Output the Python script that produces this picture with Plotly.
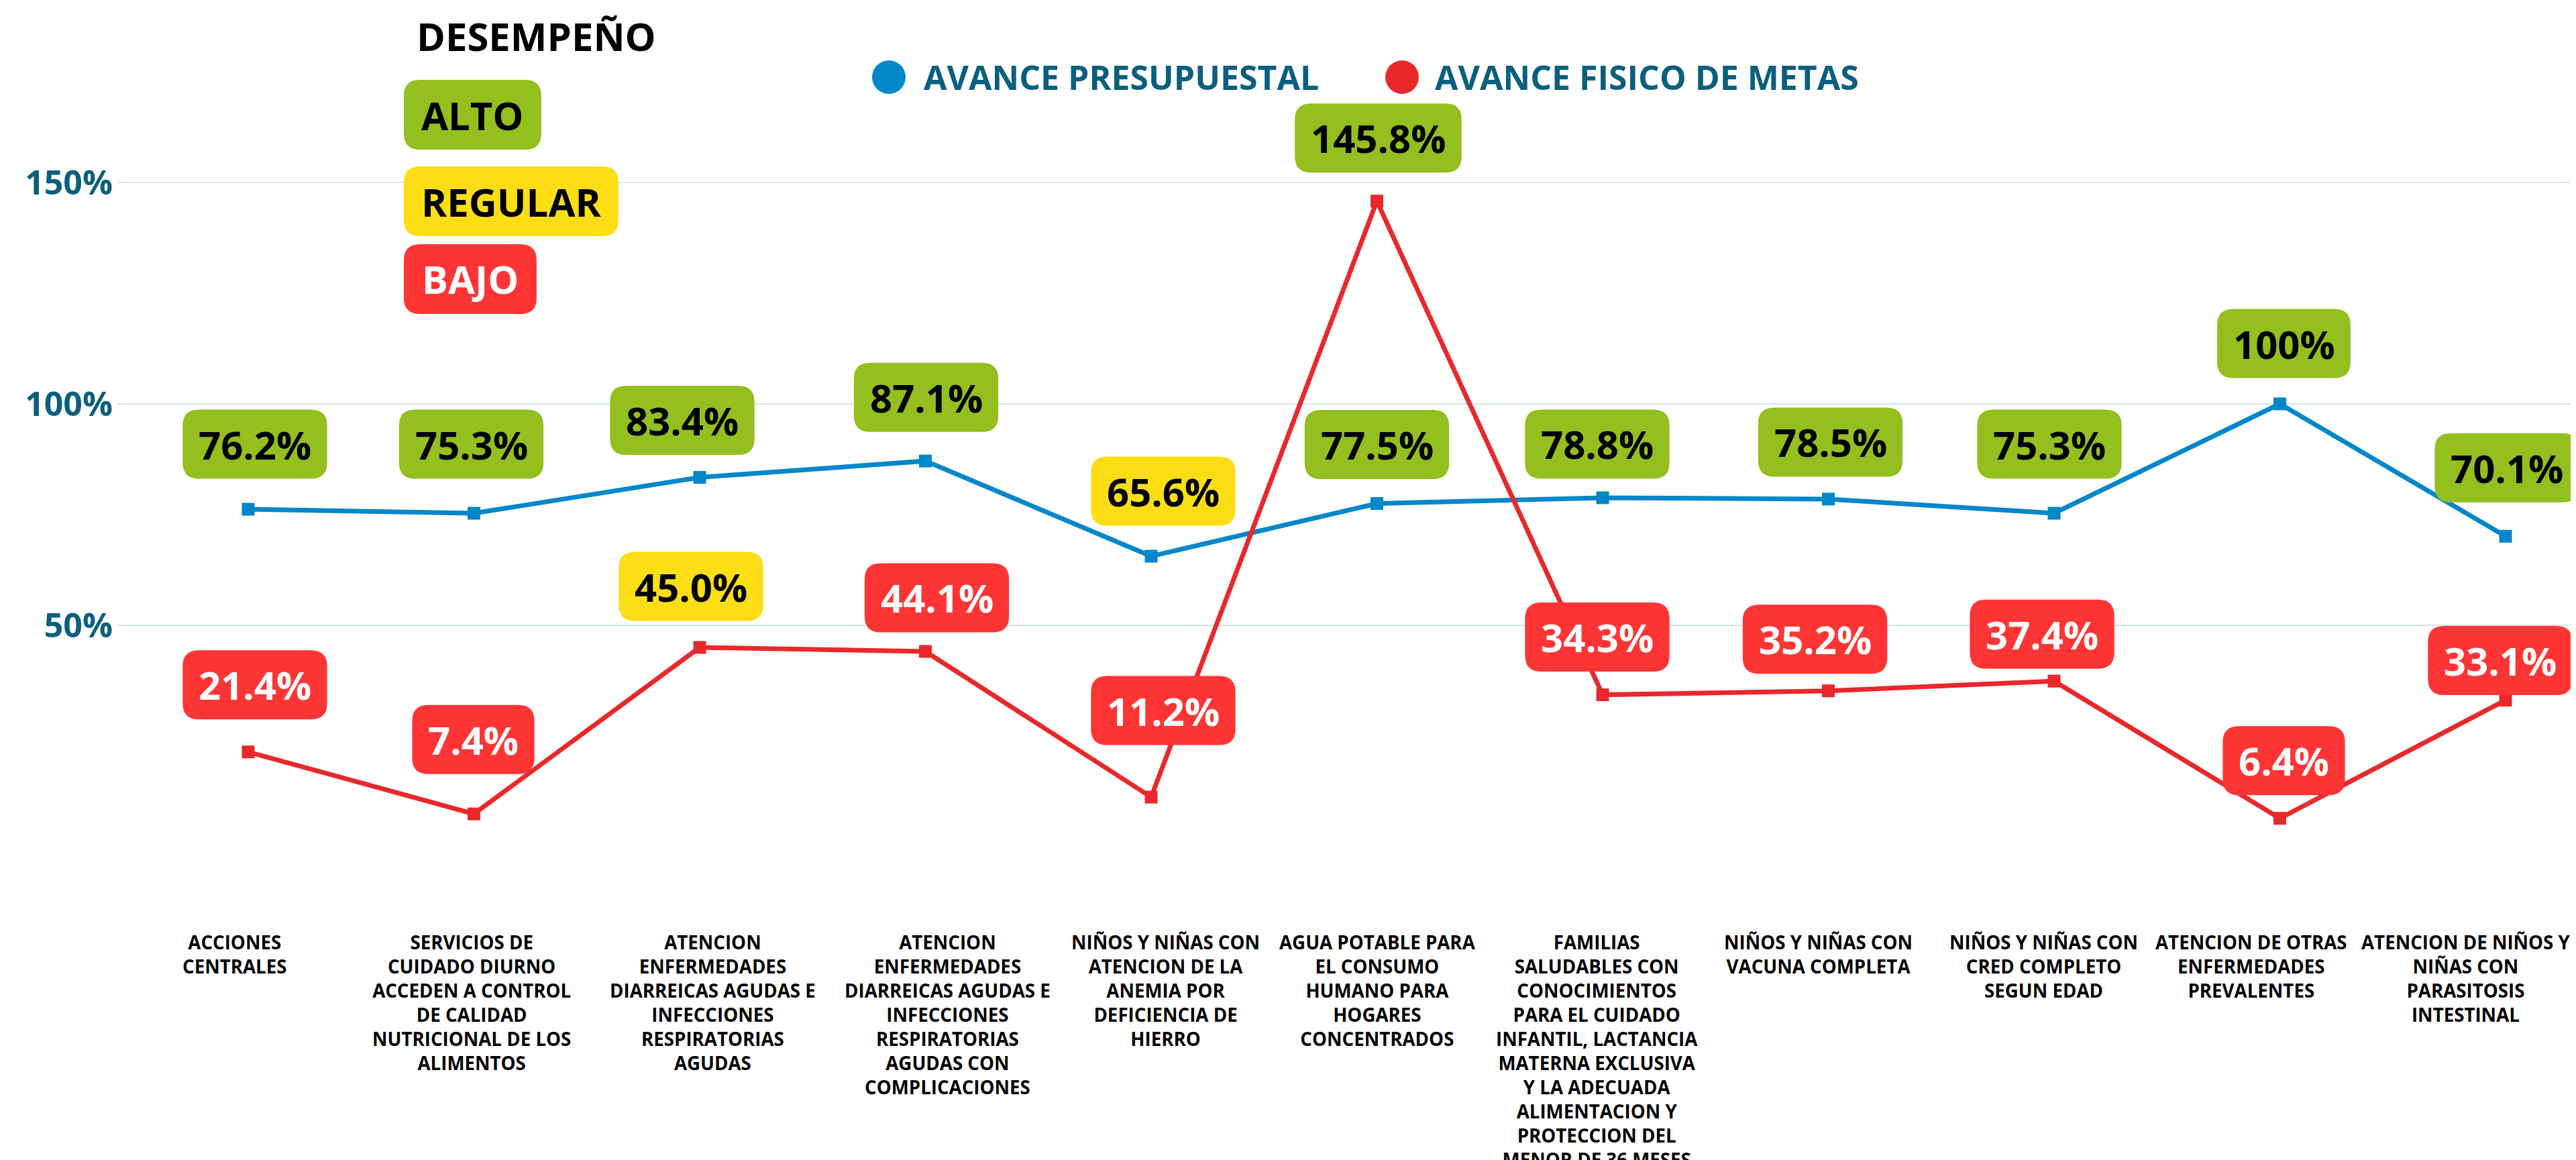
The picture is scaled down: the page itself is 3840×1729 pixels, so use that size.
import plotly.graph_objects as go

# ---------------- data ----------------
category_lines = [
    ["ACCIONES", "CENTRALES"],
    ["SERVICIOS DE", "CUIDADO DIURNO", "ACCEDEN A CONTROL", "DE CALIDAD", "NUTRICIONAL DE LOS", "ALIMENTOS"],
    ["ATENCION", "ENFERMEDADES", "DIARREICAS AGUDAS E", "INFECCIONES", "RESPIRATORIAS", "AGUDAS"],
    ["ATENCION", "ENFERMEDADES", "DIARREICAS AGUDAS E", "INFECCIONES", "RESPIRATORIAS", "AGUDAS CON", "COMPLICACIONES"],
    ["NIÑOS Y NIÑAS CON", "ATENCION DE LA", "ANEMIA POR", "DEFICIENCIA DE", "HIERRO"],
    ["AGUA POTABLE PARA", "EL CONSUMO", "HUMANO PARA", "HOGARES", "CONCENTRADOS"],
    ["FAMILIAS", "SALUDABLES CON", "CONOCIMIENTOS", "PARA EL CUIDADO", "INFANTIL, LACTANCIA",
     "MATERNA EXCLUSIVA", "Y LA ADECUADA", "ALIMENTACION Y", "PROTECCION DEL", "MENOR DE 36 MESES"],
    ["NIÑOS Y NIÑAS CON", "VACUNA COMPLETA"],
    ["NIÑOS Y NIÑAS CON", "CRED COMPLETO", "SEGUN EDAD"],
    ["ATENCION DE OTRAS", "ENFERMEDADES", "PREVALENTES"],
    ["ATENCION DE NIÑOS Y", "NIÑAS CON", "PARASITOSIS", "INTESTINAL"],
]
avance_presupuestal = [76.2, 75.3, 83.4, 87.1, 65.6, 77.5, 78.8, 78.5, 75.3, 100.0, 70.1]
avance_fisico = [21.4, 7.4, 45.0, 44.1, 11.2, 145.8, 34.3, 35.2, 37.4, 6.4, 33.1]
y_tick_values = [50, 100, 150]
y_tick_labels = ["50%", "100%", "150%"]
series_names = ["AVANCE PRESUPUESTAL", "AVANCE FISICO DE METAS"]
desempeno_levels = ["ALTO", "REGULAR", "BAJO"]

# ---------------- styles / layout ----------------
OFF = 8  # default page margin of the html body
W, H = 3840 - OFF, 1729 - OFF
# plot area in screen pixels
S_PL, S_PR, S_PT, S_PB = 175, 3840, 100, 1262
PL, PR, PT, PB = S_PL - OFF, S_PR - OFF, S_PT - OFF, S_PB - OFF
FONT = "Open Sans"
BLUE = "#0087C9"
RED_LINE = "#E9282C"
GREEN = "#93BF1F"
YELLOW = "#FDDE15"
RED = "#FF3535"
AXIS_TXT = "#0A5F7F"

# pixel offsets (x right, y up) of the value labels from their points
blue_dx = [10, -4, -26, 1, 18, 0, -8, 3, -7, 6, 2]
blue_dy = [97, 103, 85, 95, 97, 88, 80, 85, 103, 90, 102]
red_dx = [10, -1, -13, 17, 18, 2, -8, -20, -18, 6, -8]
red_dy = [100, 111, 91, 80, 129, 94, 86, 77, 70, 86, 59]
# horizontal pixel offsets of the category labels from their ticks
cat_dx = [-21, -4, 19, 33, 21, 1, -9, -15, -16, -43, -59]
CAT_FS = 27.7
CAT_DROP = 122  # pixels below the 0% level to the top of the category labels

LABEL_FS = 58
BOX_H = 103
BOX_R = 24
CHAR_W = {d: 0.572 for d in "0123456789"}
CHAR_W.update({".": 0.285, "%": 0.85})
CAP_W = {"A": .75, "L": .53, "T": .59, "O": .80, "R": .66, "E": .56, "G": .73, "U": .76,
         "B": .68, "J": .32}


def text_w(s, fs):
    return sum(CHAR_W.get(c, CAP_W.get(c, 0.6)) for c in s) * fs


def perf_color(v):
    if v >= 70:
        return GREEN
    if v >= 45:
        return YELLOW
    return RED


def fmt(v):
    return f"{v:.0f}%" if v >= 100 and v == round(v) else f"{v:.1f}%"


def rrect(cx, cy, w, h, r):
    x0, x1 = cx - w / 2, cx + w / 2
    y0, y1 = cy - h / 2, cy + h / 2
    return (f"M{x0 + r},{y0} L{x1 - r},{y0} Q{x1},{y0} {x1},{y0 + r} "
            f"L{x1},{y1 - r} Q{x1},{y1} {x1 - r},{y1} L{x0 + r},{y1} "
            f"Q{x0},{y1} {x0},{y1 - r} L{x0},{y0 + r} Q{x0},{y0} {x0 + r},{y0} Z")


def px(xs):
    """screen x pixel -> paper coordinate"""
    return (xs - S_PL) / (S_PR - S_PL)


def py(ys):
    """screen y pixel -> paper coordinate"""
    return (S_PB - ys) / (S_PB - S_PT)


x_idx = list(range(len(category_lines)))
tick_text = ["<br>".join(lines) for lines in category_lines]

fig = go.Figure()
fig.add_trace(go.Scatter(x=x_idx, y=avance_presupuestal, mode="lines+markers",
                         name=series_names[0], line=dict(color=BLUE, width=7),
                         marker=dict(symbol="square", size=19, color=BLUE)))
fig.add_trace(go.Scatter(x=x_idx, y=avance_fisico, mode="lines+markers",
                         name=series_names[1], line=dict(color=RED_LINE, width=7),
                         marker=dict(symbol="square", size=19, color=RED_LINE)))

shapes = []
annotations = []

# category labels (under the axis)
for i, txt in enumerate(tick_text):
    annotations.append(dict(x=i, y=0, xref="x", yref="y", text=txt, showarrow=False,
                            xshift=cat_dx[i], yshift=-CAT_DROP, xanchor="center", yanchor="top",
                            align="center", valign="top", borderpad=0,
                            font=dict(family=FONT, size=CAT_FS, weight="bold", color="black")))

for vals, dxs, dys in [(avance_presupuestal, blue_dx, blue_dy), (avance_fisico, red_dx, red_dy)]:
    for i, v in enumerate(vals):
        txt = fmt(v)
        c = perf_color(v)
        w = text_w(txt, LABEL_FS) + 50
        shapes.append(dict(type="path", xref="x", yref="y", xsizemode="pixel", ysizemode="pixel",
                           xanchor=i, yanchor=v, path=rrect(dxs[i], dys[i], w, BOX_H, BOX_R),
                           fillcolor=c, line=dict(width=0), layer="above"))
        annotations.append(dict(x=i, y=v, xref="x", yref="y", text=txt, showarrow=False,
                                xshift=dxs[i], yshift=dys[i], xanchor="center", yanchor="middle",
                                font=dict(family=FONT, size=LABEL_FS, weight="bold",
                                          color="white" if c == RED else "black")))

# Desempeño key
annotations.append(dict(x=px(619), y=py(53), xref="paper", yref="paper", text="DESEMPEÑO",
                        showarrow=False, xanchor="left", yanchor="middle",
                        font=dict(family=FONT, size=58, weight="bold", color="black")))
key_colors = [GREEN, YELLOW, RED]
key_cy = [171, 300, 416]
for lvl, c, cy in zip(desempeno_levels, key_colors, key_cy):
    w = text_w(lvl, 58) + 50
    cx = 602 + w / 2
    shapes.append(dict(type="path", xref="paper", yref="paper", xsizemode="pixel", ysizemode="pixel",
                       xanchor=px(cx), yanchor=py(cy), path=rrect(0, 0, w, 104, BOX_R),
                       fillcolor=c, line=dict(width=0), layer="above"))
    annotations.append(dict(x=px(cx), y=py(cy), xref="paper", yref="paper", text=lvl, showarrow=False,
                            xanchor="center", yanchor="middle",
                            font=dict(family=FONT, size=58, weight="bold",
                                      color="white" if c == RED else "black")))

# Legend
for name, c, ccx, tx in [(series_names[0], BLUE, 1325, 1375), (series_names[1], RED_LINE, 2090, 2137)]:
    shapes.append(dict(type="circle", xref="paper", yref="paper", xsizemode="pixel", ysizemode="pixel",
                       xanchor=px(ccx), yanchor=py(115), x0=-25, x1=25, y0=-25, y1=25,
                       fillcolor=c, line=dict(width=0), layer="above"))
    annotations.append(dict(x=px(tx), y=py(115), xref="paper", yref="paper", text=name, showarrow=False,
                            xanchor="left", yanchor="middle",
                            font=dict(family=FONT, size=50, weight="bold", color=AXIS_TXT)))

fig.update_layout(
    width=W, height=H, autosize=False,
    margin=dict(l=PL, r=W - PR, t=PT, b=H - PB, pad=0, autoexpand=False),
    paper_bgcolor="white", plot_bgcolor="white",
    showlegend=False,
    shapes=shapes, annotations=annotations,
    font=dict(family=FONT),
)
fig.update_xaxes(range=[-0.5795, 10.312], tickmode="array", tickvals=x_idx, showticklabels=False,
                 showgrid=False, zeroline=False, showline=False, ticks="", automargin=False)
fig.update_yaxes(range=[0, (S_PB - S_PT) / 6.6], tickmode="array", tickvals=y_tick_values,
                 ticktext=y_tick_labels, automargin=False,
                 showgrid=True, gridcolor="#D5E4EC", gridwidth=2, zeroline=False, showline=False,
                 ticks="", tickfont=dict(family=FONT, size=50, weight="bold", color=AXIS_TXT),
                 ticklabelstandoff=6)

fig.write_html("out.html")
